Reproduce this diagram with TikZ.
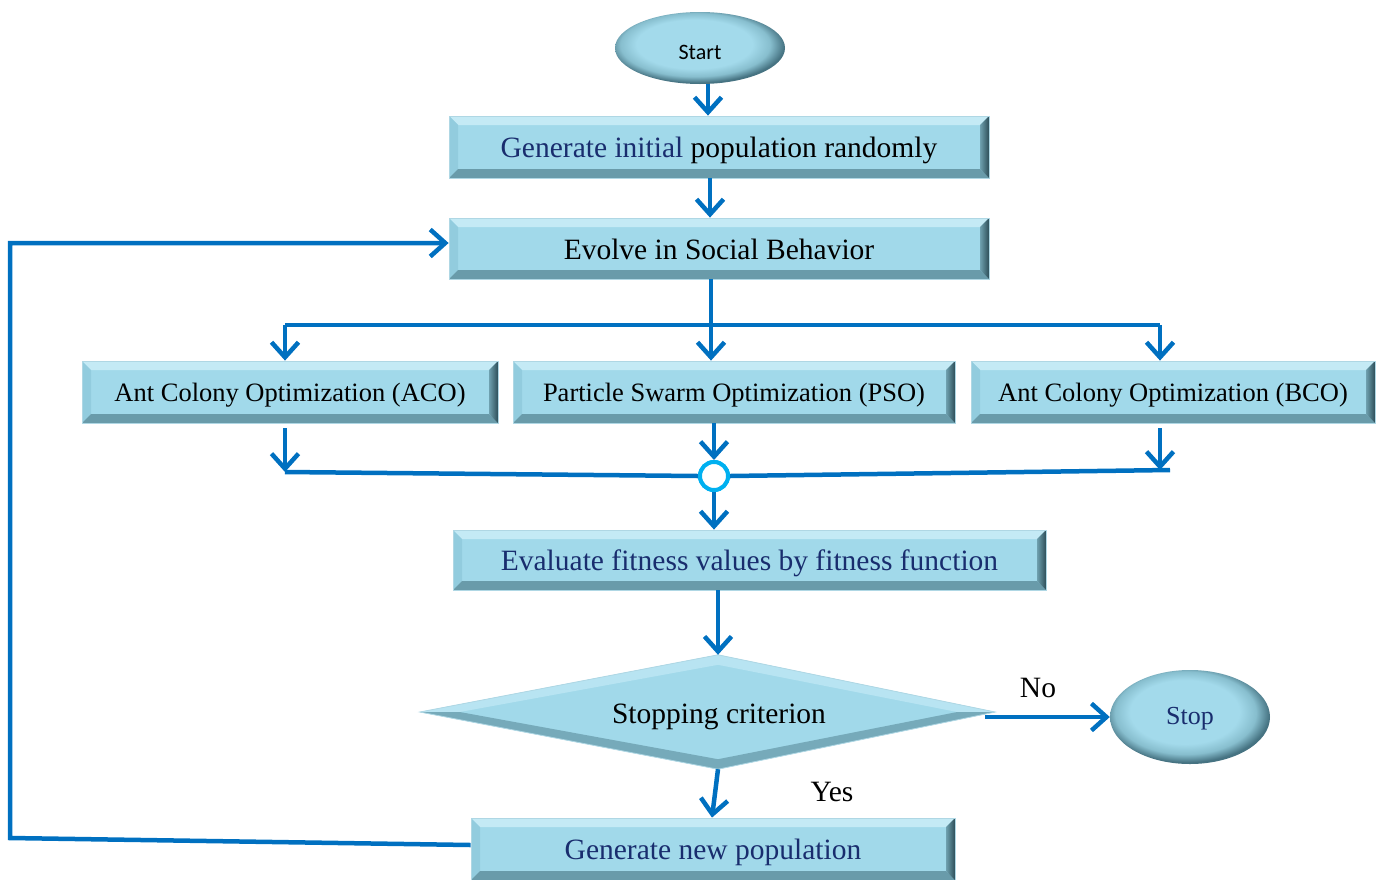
\documentclass[tikz,border=0pt]{standalone}
\usepackage{fontspec}
\setmainfont{Liberation Serif}
\newfontfamily\labelsans{Carlito}
\usetikzlibrary{arrows.meta,shapes.geometric,calc}

\definecolor{boxfill}{RGB}{161,217,234}
\definecolor{boxedge}{RGB}{175,215,228}
\definecolor{bvtop}{RGB}{196,234,245}
\definecolor{bvleft}{RGB}{146,204,222}
\definecolor{bvrightout}{RGB}{45,78,88}
\definecolor{bvrightin}{RGB}{110,160,175}
\definecolor{bvbot}{RGB}{105,155,170}
\definecolor{dmtop}{RGB}{184,228,242}
\definecolor{dmbot}{RGB}{118,170,186}
\definecolor{flowblue}{RGB}{0,112,192}
\definecolor{joincyan}{RGB}{0,176,240}
\definecolor{navytext}{RGB}{25,45,110}
\definecolor{orbin}{RGB}{163,218,235}
\definecolor{orbmid}{RGB}{135,190,206}
\definecolor{orbout}{RGB}{70,115,130}

% glossy terminal fill: the path edge sits at a radius of 25bp
\pgfdeclareradialshading{orb}{\pgfpoint{-2.5bp}{4bp}}{%
  color(0bp)=(orbin); color(17bp)=(orbin); color(22bp)=(orbmid); color(26bp)=(orbout); color(50bp)=(orbout)}

\tikzset{
  bevelbox/.style={rectangle, fill=boxfill, draw=boxedge, line width=0.8pt,
    inner sep=0pt, text height=21pt, text depth=0pt,
    font=\fontsize{29.5}{32}\selectfont,
    path picture={
      \def\bw{9pt}
      \path (path picture bounding box.north west) coordinate (pnw)
            (path picture bounding box.north east) coordinate (pne)
            (path picture bounding box.south west) coordinate (psw)
            (path picture bounding box.south east) coordinate (pse);
      \fill[bvtop] (pnw) -- (pne) -- ([shift={(-\bw,-\bw)}]pne) -- ([shift={(\bw,-\bw)}]pnw) -- cycle;
      \fill[bvleft] (pnw) -- (psw) -- ([shift={(\bw,\bw)}]psw) -- ([shift={(\bw,-\bw)}]pnw) -- cycle;
      \fill[bvbot] (psw) -- (pse) -- ([shift={(-\bw,\bw)}]pse) -- ([shift={(\bw,\bw)}]psw) -- cycle;
      \shade[left color=bvrightin, right color=bvrightout]
            (pne) -- (pse) -- ([shift={(-\bw,\bw)}]pse) -- ([shift={(-\bw,-\bw)}]pne) -- cycle;
    }},
  midtext/.style={font=\fontsize{26.5}{30}\selectfont, text height=19pt, text depth=0pt},
  orbnode/.style={ellipse, inner sep=0pt, shade, shading=orb},
  flow/.style={draw=flowblue, line width=4.5pt,
    -{Straight Barb[length=15pt,width=27pt,line width=4.5pt]}},
  plain/.style={draw=flowblue, line width=4.5pt},
  joinring/.style={circle, draw=joincyan, fill=white, line width=4pt,
    minimum size=28pt, inner sep=0pt},
  serifbig/.style={font=\fontsize{29.5}{32}\selectfont},
}

\begin{document}
\begin{tikzpicture}[x=1pt, y=-1pt]
\useasboundingbox (0,0) rectangle (1381,879);
\clip (0,0) rectangle (1381,879);

% terminals
\node[orbnode, minimum width=170pt, minimum height=72pt, text height=22pt, text depth=0pt,
      font=\labelsans\fontsize{22}{24}\selectfont] (start) at (700,48) {Start};
\node[orbnode, minimum width=160pt, minimum height=94pt, text height=17.5pt, text depth=2pt,
      font=\fontsize{26}{28}\selectfont, text=navytext] (stop) at (1190,717) {Stop};

% process steps
\node[bevelbox, minimum width=540pt, minimum height=62pt] (gen) at (719,147)
  {\textcolor{navytext}{Generate initial} population randomly};
\node[bevelbox, minimum width=540pt, minimum height=61pt] (evolve) at (719,248.5)
  {Evolve in Social Behavior};
\node[bevelbox, midtext, minimum width=416pt, minimum height=62pt] (aco) at (290,392)
  {Ant Colony Optimization (ACO)};
\node[bevelbox, midtext, minimum width=442pt, minimum height=62pt] (pso) at (734,392)
  {Particle Swarm Optimization (PSO)};
\node[bevelbox, midtext, minimum width=404pt, minimum height=62pt] (bco) at (1173,392)
  {Ant Colony Optimization (BCO)};
\node[bevelbox, text=navytext, minimum width=593pt, minimum height=60pt] (eval) at (749.5,560)
  {Evaluate fitness values by fitness function};
\node[bevelbox, text=navytext, minimum width=484pt, minimum height=62pt] (newpop) at (713,849)
  {Generate new population};

% decision: anchor frame plus a bevelled rhombus (top and bottom corners at x = 718)
\node[rectangle, minimum width=575pt, minimum height=114pt, inner sep=0pt] (dec) at (707.5,712) {};
\coordinate (dN) at ([xshift=10.5pt]dec.north);
\coordinate (dS) at ([xshift=10.5pt]dec.south);
\coordinate (iW) at ($(dec.west)+(40,0)$);
\coordinate (iE) at ($(dec.east)+(-38,0)$);
\coordinate (iN) at ($(dN)+(0,10)$);
\coordinate (iS) at ($(dS)+(0,-10)$);
\fill[boxfill] (dec.west) -- (dN) -- (dec.east) -- (dS) -- cycle;
\fill[dmtop] (dec.west) -- (dN) -- (iN) -- (iW) -- cycle;
\fill[dmtop] (dN) -- (dec.east) -- (iE) -- (iN) -- cycle;
\fill[dmbot] (dec.east) -- (dS) -- (iS) -- (iE) -- cycle;
\fill[dmbot] (dS) -- (dec.west) -- (iW) -- (iS) -- cycle;
\draw[boxedge, line width=0.8pt] (dec.west) -- (dN) -- (dec.east) -- (dS) -- cycle;
\node[serifbig, text height=21pt, text depth=0pt] (declabel) at (719,713) {Stopping criterion};

% junction ring
\node[joinring] (j) at (714,476) {};

% routing points
\coordinate (brL) at (285,325);
\coordinate (brR) at (1160,325);
\coordinate (jL) at (285,472);
\coordinate (jR) at (1170,470);
\coordinate (fbB) at (10,838);
\coordinate (fbT) at (10,243);

% main flow
\draw[flow] ([xshift=8pt]start.south) -- ([xshift=8pt]start.south |- gen.north);
\draw[flow] ([xshift=-9pt]gen.south) -- ([xshift=-9pt]gen.south |- evolve.north);
\draw[flow] ([xshift=-8pt]evolve.south) -- ([xshift=-8pt]evolve.south |- pso.north);

% split into the three optimizers
\draw[plain] (brL) -- (brR);
\draw[flow] (brL) -- (brL |- aco.north);
\draw[flow] (brR) -- (brR |- bco.north);

% merge back
\draw[flow] ($(brL |- aco.south)+(0,5)$) -- (jL);
\draw[flow] ($(brR |- bco.south)+(0,5)$) -- (brR |- jR);
\draw[flow] (j.north |- pso.south) -- (j.north);
\draw[plain] (jL) -- (j.west);
\draw[plain] (j.east) -- (jR);
\node[joinring] at (j) {};
\draw[flow] (j.south) -- (j.south |- eval.north);

% evaluation and decision
\draw[flow] (eval.south -| dN) -- (dN);
\draw[flow] ($(stop.west -| dec.east)+(-10,0)$) -- (stop.west);
\draw[flow] (dS) -- ([xshift=-6pt]dS |- newpop.north);
\node[serifbig] at (1038,688) {No};
\node[serifbig] at (832,792) {Yes};

% loop back to social behaviour
\draw[flow] ([yshift=4pt]newpop.west) -- (fbB) -- (fbT) -- ([yshift=5.5pt]evolve.west);
\end{tikzpicture}
\end{document}
